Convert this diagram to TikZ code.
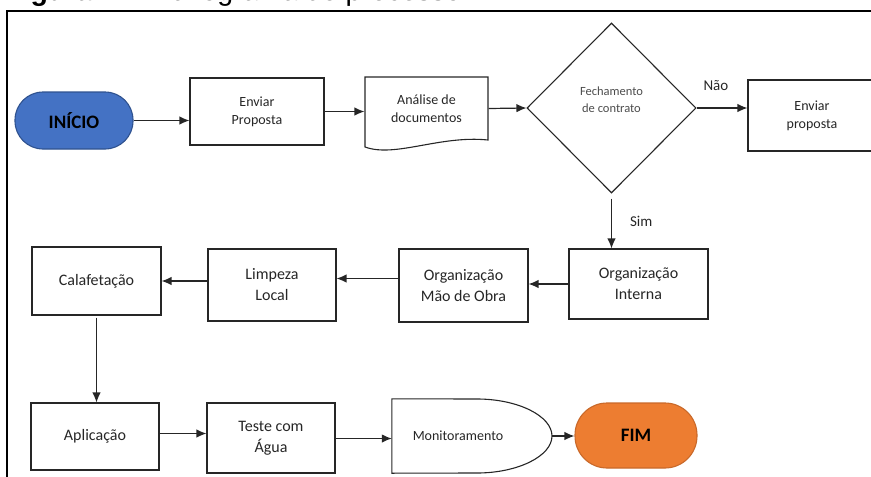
\documentclass[tikz,border=0pt]{standalone}
\usepackage{fontspec}
\setmainfont{Carlito}
\newfontfamily\legendafont{Liberation Sans}
\usetikzlibrary{arrows.meta,shapes.geometric}

\definecolor{azulinicio}{HTML}{4472C4}
\definecolor{azulborda}{HTML}{2F528F}
\definecolor{laranjafim}{HTML}{ED7D31}
\definecolor{laranjaborda}{HTML}{C9692A}
\definecolor{traco}{HTML}{262626}

\tikzset{
  caixa/.style={draw=traco, line width=1.1pt, align=center, text=traco,
    inner sep=0pt, font=\fontsize{16}{21}\selectfont},
  menor/.style={font=\fontsize{14}{18}\selectfont},
  terminal/.style={draw=#1, line width=1.1pt, inner sep=0pt,
    font=\bfseries\fontsize{19}{22}\selectfont, text=black},
  decisao/.style={diamond, draw=traco, line width=1.1pt, inner sep=0pt,
    minimum width=169pt, minimum height=170pt},
  seta/.style={-{Latex[length=10pt,width=8.5pt]}, line width=1.2pt, draw=traco},
  rotulo/.style={font=\fontsize{15}{18}\selectfont, text=traco, inner sep=1pt}
}

\begin{document}
\begin{tikzpicture}[x=1pt,y=-1pt]
  \useasboundingbox (0,0) rectangle (871,477);
  \clip (0,0) rectangle (871,477);

  % moldura e legenda (cortadas na imagem)
  \draw[line width=2pt, black] (7,500) -- (7,10.8) -- (900,10.8);
  \node[anchor=base west, inner sep=0pt, font=\legendafont\fontsize{28.5}{30}\selectfont]
    (legenda) at (5,0.5) {\textbf{Figura 1 –} Fluxograma do processo};

  % primeira linha
  \node[terminal=azulborda, fill=azulinicio, rounded corners=28pt,
    minimum width=118pt, minimum height=57pt] (inicio) at (74,120.5) {INÍCIO};
  \node[caixa, menor, minimum width=134pt, minimum height=67pt] (proposta) at (257,111.5) {Enviar\\Proposta};
  \draw[line width=1.1pt, draw=traco] (365,77) -- (488,77) -- (488,140)
    .. controls (440,135) and (395,158) .. (365,147) -- cycle;
  \node[caixa, menor, draw=none, minimum width=123pt, minimum height=63pt] (analise) at (426.5,108.5) {Análise de\\documentos};
  \node[decisao, label={[align=center, yshift=8pt, text=black!70,
    font=\fontsize{12.5}{17}\selectfont]center:Fechamento\\de contrato}] (fechamento) at (611.5,108) {};
  \node[caixa, menor, minimum width=128pt, minimum height=71pt] (proposta2) at (812,115.5) {Enviar\\proposta};

  % segunda linha
  \node[caixa, minimum width=139pt, minimum height=70pt] (orgint) at (638.5,284) {Organização\\Interna};
  \node[caixa, minimum width=129pt, minimum height=73pt] (orgmao) at (463.5,285.5) {Organização\\Mão de Obra};
  \node[caixa, minimum width=128pt, minimum height=72pt] (limpeza) at (272,285) {Limpeza\\Local};
  \node[caixa, minimum width=129pt, minimum height=68pt] (calafetacao) at (96.5,281) {Calafetação};

  % terceira linha
  \node[caixa, minimum width=128pt, minimum height=67pt] (aplicacao) at (95,436.5) {Aplicação};
  \node[caixa, minimum width=128pt, minimum height=70pt] (teste) at (271,438) {Teste com\\Água};
  \node[minimum width=160pt, minimum height=74pt, inner sep=0pt,
    label={[xshift=-14pt, menor, text=traco]center:Monitoramento}] (monit) at (472,436) {};
  \draw[line width=1.1pt, draw=traco] (monit.north west) -- (477,399)
    .. controls (518,399) and (552,416) .. (552,436)
    .. controls (552,456) and (518,473) .. (477,473) -- (monit.south west) -- cycle;
  \node[terminal=laranjaborda, fill=laranjafim, rounded corners=32pt,
    minimum width=122pt, minimum height=65pt] (fim) at (636,435.5) {FIM};

  % ligacoes
  \draw[seta] (inicio.east) -- (inicio.east -| proposta.west);
  \draw[seta] (proposta.east) -- (proposta.east -| analise.west);
  \draw[seta] (analise.east) -- (fechamento.west);
  \draw[seta] (fechamento.east) -- (fechamento.east -| proposta2.west)
    node[rotulo, pos=0.38, above=16pt] {Não};
  \draw[seta, shorten <=5pt] (fechamento.south) -- (fechamento.south |- orgint.north)
    node[rotulo, midway, right=17pt] {Sim};
  \draw[seta] (orgint.west) -- (orgint.west -| orgmao.east);
  \draw[seta] ([yshift=7pt]orgmao.west) -- ([yshift=7pt]orgmao.west -| limpeza.east);
  \draw[seta] ([yshift=4pt]limpeza.west) -- ([yshift=4pt]limpeza.west -| calafetacao.east);
  \draw[seta, shorten <=2pt] (calafetacao.south) -- (calafetacao.south |- aplicacao.north);
  \draw[seta] ([yshift=3pt]aplicacao.east) -- ([yshift=3pt]aplicacao.east -| teste.west);
  \draw[seta] ([yshift=-0.5pt]teste.east) -- ([yshift=-0.5pt]teste.east -| monit.west);
  \draw[seta] (monit.east) -- (monit.east -| fim.west);
\end{tikzpicture}
\end{document}
